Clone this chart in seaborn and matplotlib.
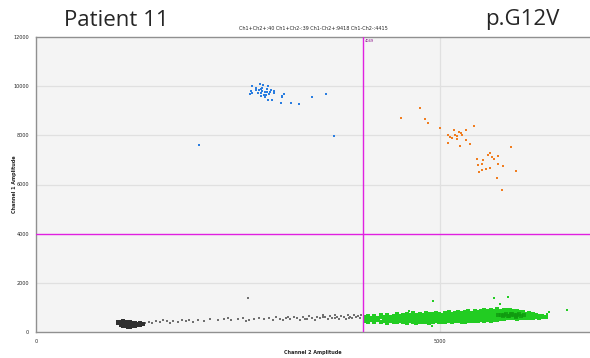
import numpy as np
import pandas as pd
import matplotlib
matplotlib.use("Agg")
import matplotlib.pyplot as plt
import seaborn as sns

# droplet amplitudes (Channel 2 = x, Channel 1 = y)

# Ch1+Ch2- (blue, FAM positive)
blue_x = [2677, 2772, 2813, 2871, 2781, 2801, 2863, 2905, 2657, 2649, 2670, 2748,
          2785, 2838, 2863, 2896, 2942, 2822, 2847, 2830, 3069, 3041, 3041, 2868,
          2917, 3028, 3156, 3255, 3412, 3585, 3692, 2017, 2760, 2800, 2730, 2880,
          2720, 2950, 2790]
blue_y = [10008, 10077, 10037, 10020, 9898, 9927, 9886, 9858, 9793, 9695, 9711, 9711,
          9723, 9764, 9764, 9752, 9736, 9642, 9654, 9573, 9683, 9601, 9548, 9450,
          9450, 9316, 9316, 9276, 9560, 9695, 7966, 7620, 9830, 9790, 9860, 9700,
          9940, 9810, 9600]

# Ch1+Ch2+ (orange, double positive)
orange_x = [4761, 4517, 4818, 4855, 5004, 5424, 5239, 5322, 5173, 5099, 5132, 5186,
            5214, 5276, 5214, 5322, 5099, 5371, 5248, 5882, 5627, 5726, 5594, 5644,
            5668, 5458, 5541, 5721, 5783, 5470, 5524, 5619, 5578, 5520, 5486, 5944,
            5714, 5776, 5260, 5150]
orange_y = [9125, 8719, 8653, 8503, 8312, 8381, 8124, 8206, 8206, 8002, 7946, 8002,
            7986, 8027, 7852, 7811, 7689, 7648, 7567, 7539, 7270, 7173, 7189, 7107,
            7050, 7038, 6985, 6835, 6753, 6782, 6822, 6672, 6631, 6578, 6497, 6538,
            6278, 5789, 8090, 7900]

# Ch1-Ch2+ (green, HEX positive) - band drawn column by column
green_cols = [4070, 4110, 4150, 4190, 4230, 4270, 4310, 4350, 4390, 4430, 4470, 4510,
              4550, 4590, 4630, 4670, 4710, 4750, 4790, 4830, 4870, 4910, 4950, 4990,
              5030, 5070, 5110, 5150, 5190, 5230, 5270, 5310, 5350, 5390, 5430, 5470,
              5510, 5550, 5590, 5630, 5670, 5710, 5750, 5790, 5830, 5870, 5910, 5950,
              5990, 6030, 6070, 6110, 6150, 6190, 6230, 6270, 6310]
green_rows = [
    [450, 610], [520, 390, 660], [470, 580], [410, 640, 530], [560, 470],
    [690, 400, 590], [500, 620, 440], [380, 560, 700, 480], [610, 450, 530],
    [420, 660, 570, 500], [720, 480, 600, 390], [540, 440, 660, 590],
    [410, 700, 520, 620, 470], [580, 460, 740, 380, 650], [500, 690, 430, 600, 550],
    [640, 400, 520, 760, 470], [560, 710, 450, 610, 380], [490, 650, 580, 420, 730],
    [620, 530, 440, 700, 390, 580], [470, 760, 560, 640, 410],
    [540, 680, 450, 600, 720, 380], [600, 490, 740, 420, 560, 660],
    [430, 650, 530, 780, 590, 470], [700, 560, 410, 620, 500, 750],
    [480, 640, 580, 420, 700, 530], [760, 520, 450, 620, 680, 390],
    [560, 700, 430, 610, 500, 800], [640, 480, 740, 560, 410, 690],
    [520, 610, 780, 450, 580, 660], [700, 430, 560, 820, 620, 500],
    [590, 760, 480, 650, 410, 540], [470, 690, 620, 800, 540, 420],
    [730, 560, 460, 640, 580, 860], [510, 660, 790, 430, 600, 700],
    [620, 480, 720, 560, 840, 440], [690, 580, 500, 770, 640, 450, 820],
    [540, 860, 620, 470, 710, 600, 760], [650, 500, 780, 580, 880, 460, 700],
    [720, 560, 640, 840, 490, 760, 600], [600, 800, 520, 700, 900, 650, 460],
    [680, 760, 550, 620, 860, 480, 720], [740, 620, 820, 560, 680, 920, 500],
    [650, 780, 590, 860, 700, 520, 620], [720, 600, 840, 680, 900, 540, 760],
    [660, 780, 620, 700, 560, 880, 740], [700, 640, 820, 580, 760, 680, 900],
    [620, 740, 680, 860, 560, 800, 700], [720, 660, 600, 780, 840, 540, 700],
    [640, 760, 700, 580, 820, 660], [700, 620, 760, 560, 800, 680],
    [660, 580, 740, 620, 700], [600, 700, 640, 760, 560], [660, 620, 720, 580],
    [640, 600, 700], [620, 660, 580], [640, 600], [620],
]
green_out_x = [4910, 5670, 5840, 5740, 6580, 6330, 4620, 4900, 6350]
green_out_y = [1260, 1380, 1420, 1140, 895, 720, 860, 250, 820]
core_x = [5760, 5800, 5840, 5880, 5920, 5960, 6000, 5860, 5900, 5820, 5940, 5980,
          5720, 6040, 5780, 5880, 5940]
core_y = [680, 700, 660, 720, 680, 700, 660, 640, 740, 720, 650, 720,
          700, 690, 640, 680, 620]

# Ch1-Ch2- (black, negative droplets)
blob_cols = [1020, 1050, 1080, 1110, 1140, 1170, 1200, 1230, 1260, 1290, 1320]
blob_rows = [[380, 420], [300, 360, 410], [260, 330, 390, 440], [230, 290, 350, 410],
             [220, 280, 340, 400], [210, 270, 330, 390], [230, 290, 350],
             [250, 310, 370], [280, 340], [300, 360], [330]]
trail_x = [1350, 1400, 1440, 1480, 1530, 1570, 1620, 1660, 1700, 1760, 1810, 1860,
           1900, 1950, 2010, 2080, 2150, 2250, 2330, 2420, 2500, 2560, 2640, 2700,
           2760, 2820, 2880, 2930, 2970, 3020, 3060, 3100, 3150, 3190, 3230, 3270,
           3310, 3350, 3380, 3420, 3450, 3480, 3520, 3550, 3580, 3610, 3640, 3670,
           3700, 3730, 3750, 3780, 3810, 3840, 3860, 3890, 3910, 3940, 3960, 3990,
           4010, 4030, 3870, 3700, 3560, 3330, 3120, 2600, 2380, 2620]
trail_y = [380, 420, 360, 450, 400, 470, 430, 380, 460, 420, 500, 440,
           470, 410, 480, 450, 510, 470, 540, 480, 520, 560, 490, 530,
           580, 510, 560, 470, 600, 540, 500, 580, 520, 620, 560, 480,
           600, 540, 650, 580, 500, 620, 560, 680, 600, 520, 640, 580,
           700, 620, 540, 660, 600, 520, 700, 630, 560, 680, 600, 640,
           560, 690, 580, 560, 620, 520, 620, 440, 560, 1380]

counts_text = "Ch1+Ch2+:40 Ch1+Ch2-:39 Ch1-Ch2+:9418 Ch1-Ch2-:4415"
x_threshold = 4049
y_threshold = 4000
y_ticks = [0, 2000, 4000, 6000, 8000, 10000, 12000]
x_ticks = [0, 5000]

green = pd.DataFrame({
    "x": [c for c, r in zip(green_cols, green_rows) for _ in r],
    "y": [v for r in green_rows for v in r],
})
blob = pd.DataFrame({
    "x": [c for c, r in zip(blob_cols, blob_rows) for _ in r],
    "y": [v for r in blob_rows for v in r],
})

sns.set_style("white", {"axes.facecolor": "#f4f4f4"})
plt.rcParams["font.family"] = ["DejaVu Sans"]

fig = plt.figure(figsize=(5.9, 3.58), dpi=100)
ax = fig.add_axes([36 / 590, 26 / 358, 1 - 36 / 590, 295 / 358])

# grid lines
for yv in [2000, 6000, 8000, 10000]:
    ax.axhline(yv, color="#e0e0e0", lw=0.9, zorder=0)
ax.axvline(5000, color="#e0e0e0", lw=0.9, zorder=0)

sns.scatterplot(x=trail_x, y=trail_y, ax=ax, color="#707070", marker="s", s=3,
                linewidth=0)
sns.scatterplot(data=blob, x="x", y="y", ax=ax, color="#303030", marker="s", s=10,
                linewidth=0)
sns.scatterplot(data=green, x="x", y="y", ax=ax, color="#22cc22", marker="s", s=7,
                linewidth=0)
sns.scatterplot(x=green_out_x, y=green_out_y, ax=ax, color="#22cc22", marker="s",
                s=3, linewidth=0)
sns.scatterplot(x=core_x, y=core_y, ax=ax, color="#109a10", marker="s", s=9,
                linewidth=0, alpha=0.8)
sns.scatterplot(x=blue_x, y=blue_y, ax=ax, color="#2a7de0", marker="s", s=4,
                linewidth=0)
sns.scatterplot(x=orange_x, y=orange_y, ax=ax, color="#f07d20", marker="s", s=4,
                linewidth=0)

# thresholds
ax.axvline(x_threshold, color="#e020e0", lw=1.0, zorder=3)
ax.axhline(y_threshold, color="#e020e0", lw=1.0, zorder=3)
ax.text(x_threshold + 25, 11900, str(x_threshold), fontsize=2.5, color="#800080",
        va="top")

ax.set_xlim(0, 6860)
ax.set_ylim(0, 12000)
ax.set_xticks(x_ticks)
ax.set_yticks(y_ticks)
ax.tick_params(labelsize=3.5, length=3, color="#888888", pad=2)
ax.set_xlabel("Channel 2 Amplitude", fontsize=3.5, fontweight="bold")
ax.set_ylabel("Channel 1 Amplitude", fontsize=3.5, fontweight="bold")
ax.xaxis.set_label_coords(277 / 554, -18 / 295)
ax.yaxis.set_label_coords(-19 / 554, 0.5)
for side in ["left", "bottom", "top"]:
    ax.spines[side].set_color("#909090")
    ax.spines[side].set_linewidth(1.0)
ax.spines["right"].set_visible(False)

fig.text(313 / 590, 1 - 29 / 358, counts_text, fontsize=3.5, ha="center",
         va="center")
fig.text(64 / 590, 1 - 20 / 358, "Patient 11", fontsize=16, family="Open Sans",
         ha="left", va="center")
fig.text(485 / 590, 1 - 20 / 358, "p.G12V", fontsize=16, family="Open Sans",
         ha="left", va="center")

fig.savefig("out.png", dpi=100)
